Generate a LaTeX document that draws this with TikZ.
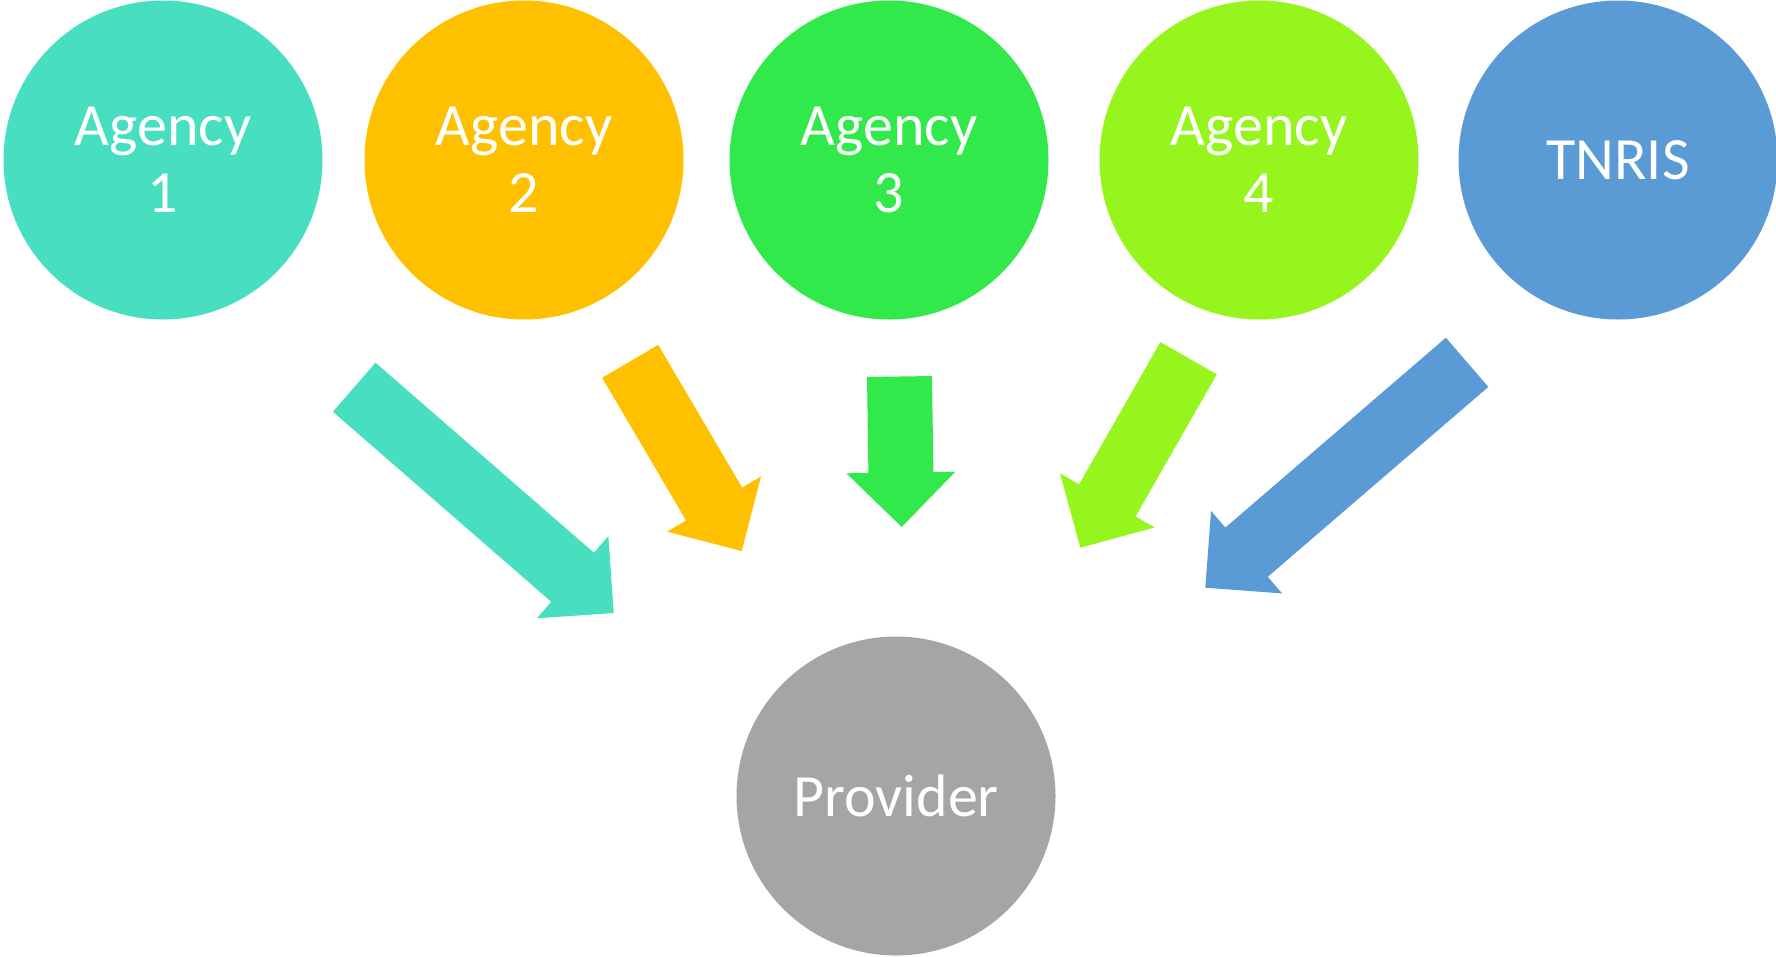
\documentclass[tikz,border=0pt]{standalone}
\usepackage{fontspec}
\setmainfont{Carlito}
\usepackage{tikz}
\usetikzlibrary{calc}

\definecolor{agencyA}{HTML}{48DFC0}
\definecolor{agencyB}{HTML}{FFC000}
\definecolor{agencyC}{HTML}{31E94B}
\definecolor{agencyD}{HTML}{96F51C}
\definecolor{tnrisblue}{HTML}{5B9BD5}
\definecolor{providergray}{HTML}{A5A5A5}

\begin{document}
\begin{tikzpicture}[x=1pt,y=-1pt,
    bubble/.style={circle, draw=none, minimum size=319pt, inner sep=0pt,
        text=white, align=center, font=\fontsize{60}{67}\selectfont}]
        \def\shaftW{32.5pt}                         % half width of the arrow shaft
        \def\headW{54.5pt}                          % half width of the arrow head
        \def\headL{54.5pt}                          % length of the arrow head

        % This macro fills a block arrow from a tail coordinate to a tip coordinate.
        \def\blockarrow#1#2#3{%
            \coordinate (#3 base) at ($(#3)!\headL!(#2)$);
            \fill[#1] ($(#2)!\shaftW!90:(#3)$) -- ($(#3 base)!\shaftW!90:(#3)$)
                -- ($(#3 base)!\headW!90:(#3)$) -- (#3)
                -- ($(#3 base)!\headW!-90:(#3)$) -- ($(#3 base)!\shaftW!-90:(#3)$)
                -- ($(#2)!\shaftW!-90:(#3)$) -- cycle;
        }

\useasboundingbox (0,0) rectangle (1776,956);

        % Draw the agencies and TNRIS on top
\node[bubble, fill=agencyA] (agency1) at (163,160) {Agency\\1};
\node[bubble, fill=agencyB] (agency2) at (524,160) {Agency\\2};
\node[bubble, fill=agencyC] (agency3) at (889,160) {Agency\\3};
\node[bubble, fill=agencyD] (agency4) at (1259,160) {Agency\\4};
\node[bubble, fill=tnrisblue] (tnris) at (1618,160) {TNRIS};

        % Draw the provider at the bottom
\node[bubble, fill=providergray] (provider) at (896,796) {Provider};

        % Free ends of the block arrows
\coordinate (tail1) at (354.2,387.2);
\coordinate (tip1) at (613.7,613);
\coordinate (tail2) at (630.2,361.3);
\coordinate (tip2) at (741.7,551);
\coordinate (tail3) at (899.5,376.5);
\coordinate (tip3) at (901.7,527);
\coordinate (tail4) at (1188.6,358.2);
\coordinate (tip4) at (1080.3,547.7);
\coordinate (tail5) at (1467.1,362.3);
\coordinate (tip5) at (1205.3,587.7);

\blockarrow{agencyA}{tail1}{tip1}
\blockarrow{agencyB}{tail2}{tip2}
\blockarrow{agencyC}{tail3}{tip3}
\blockarrow{agencyD}{tail4}{tip4}
\blockarrow{tnrisblue}{tail5}{tip5}

    \end{tikzpicture}
\end{document}
